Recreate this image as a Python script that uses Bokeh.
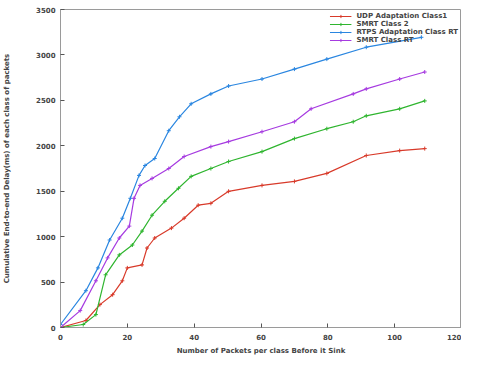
from bokeh.plotting import figure
from bokeh.models import Range1d, Legend, LegendItem, FixedTicker
from bokeh.embed import file_html
from bokeh.resources import INLINE

# ---- data ----
series_names = ["UDP Adaptation Class1", "SMRT Class 2", "RTPS Adaptation Class RT", "SMRT Class RT"]

red_x = [0, 7.6, 11.8, 15.6, 18.5, 20, 24.4, 25.9, 28.2, 33.2, 37, 41.2, 45, 50.3, 60.3, 70, 79.7, 91.5, 101.5, 109]
red_y = [0, 77, 252, 361, 514, 656, 689, 875, 985, 1094, 1203, 1346, 1367, 1499, 1564, 1608, 1696, 1893, 1947, 1969]

green_x = [0, 6.8, 10.6, 13.5, 17.6, 21.5, 24.4, 27.4, 31.2, 35.3, 39.1, 45, 50.3, 60.3, 70, 79.7, 87.6, 91.5, 101.5, 109]
green_y = [0, 33, 142, 580, 799, 908, 1061, 1236, 1389, 1532, 1663, 1750, 1827, 1936, 2079, 2188, 2265, 2330, 2407, 2494]

blue_x = [0, 7.6, 11.2, 14.7, 18.5, 20.9, 23.5, 25.3, 28.2, 32.4, 35.6, 39.1, 45, 50.3, 60.3, 70, 79.7, 91.5, 108]
blue_y = [33, 405, 656, 963, 1203, 1422, 1674, 1783, 1860, 2166, 2319, 2462, 2571, 2658, 2735, 2844, 2954, 3085, 3194]

purple_x = [0, 5.9, 10.6, 14.1, 17.6, 20.6, 22, 23.8, 27.4, 32.4, 37, 45, 50.3, 60.3, 70, 75, 87.6, 91.5, 101.5, 109]
purple_y = [0, 186, 514, 766, 985, 1116, 1422, 1564, 1641, 1750, 1882, 1991, 2046, 2155, 2265, 2407, 2571, 2626, 2735, 2812]

x_ticks = [0, 20, 40, 60, 80, 100, 120]
y_ticks = [0, 500, 1000, 1500, 2000, 2500, 3000, 3500]

colors = ["#d83a2a", "#2fb52f", "#2a86e0", "#a63be0"]

FONT = "DejaVu Sans"

p = figure(width=461, height=357, output_backend="svg", toolbar_location=None,
           x_range=Range1d(0, 120), y_range=Range1d(0, 3500),
           min_border_left=54, min_border_right=0, min_border_top=9, min_border_bottom=29)
p.background_fill_color = "white"
p.border_fill_color = "white"
p.outline_line_color = "#9a9a9a"
p.grid.visible = False

for ax in (p.xaxis[0], p.yaxis[0]):
    ax.major_label_text_font = FONT
    ax.major_label_text_font_size = "7px"
    ax.major_label_text_font_style = "bold"
    ax.axis_label_text_font = FONT
    ax.axis_label_text_font_size = "7px"
    ax.axis_label_text_font_style = "bold"
    ax.major_tick_in = 4
    ax.major_tick_out = 0
    ax.minor_tick_line_color = None
    ax.axis_line_color = "#9a9a9a"
    ax.major_tick_line_color = "#555555"
    ax.major_label_standoff = 5

p.xaxis[0].major_label_standoff = 6
p.xaxis[0].axis_label_standoff = 4
p.yaxis[0].axis_label_standoff = 22
p.xaxis[0].ticker = FixedTicker(ticks=x_ticks)
p.yaxis[0].ticker = FixedTicker(ticks=y_ticks)
p.xaxis[0].axis_label = "Number of Packets per class Before it Sink"
p.yaxis[0].axis_label = "Cumulative End-to-end Delay(ms) of each class of packets"

items = []
for name, xs, ys, c in zip(series_names,
                           [red_x, green_x, blue_x, purple_x],
                           [red_y, green_y, blue_y, purple_y], colors):
    r1 = p.line(xs, ys, line_color=c, line_width=1.2)
    r2 = p.scatter(xs, ys, marker="cross", size=4, line_color=c, line_width=1)
    items.append(LegendItem(label=name, renderers=[r1, r2]))

legend = Legend(items=items, location="top_right")
legend.label_text_font = FONT
legend.label_text_font_size = "7px"
legend.label_text_font_style = "bold"
legend.background_fill_alpha = 0
legend.border_line_color = None
legend.spacing = 0
legend.padding = 1
legend.margin = 3
legend.glyph_width = 22
legend.glyph_height = 8
legend.label_height = 8
p.add_layout(legend)

open("out.html", "w").write(file_html(p, INLINE))
